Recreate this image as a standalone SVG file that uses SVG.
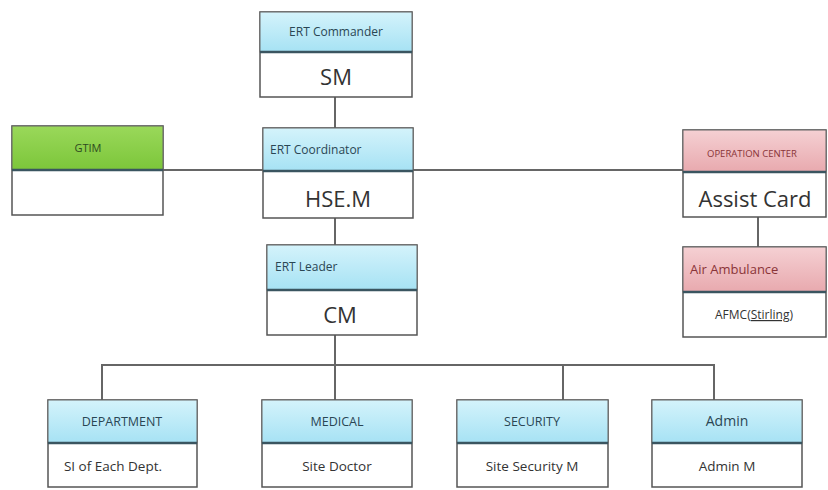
<svg xmlns="http://www.w3.org/2000/svg" width="828" height="490" viewBox="0 0 828 490">
<defs>
<linearGradient id="gBlue" x1="0" y1="0" x2="0" y2="1"><stop offset="0" stop-color="#d4f3fb"/><stop offset="1" stop-color="#a6e2f4"/></linearGradient>
<linearGradient id="gGreen" x1="0" y1="0" x2="0" y2="1"><stop offset="0" stop-color="#9ad85a"/><stop offset="1" stop-color="#7cc63a"/></linearGradient>
<linearGradient id="gPink" x1="0" y1="0" x2="0" y2="1"><stop offset="0" stop-color="#f5d0d3"/><stop offset="1" stop-color="#e8a9ae"/></linearGradient>
</defs>
<style>
.box{fill:#fff;stroke:#555;stroke-width:1.5}
.hb{fill:url(#gBlue);stroke:#666;stroke-width:1}
.hg{fill:url(#gGreen);stroke:#666;stroke-width:1}
.hp{fill:url(#gPink);stroke:#666;stroke-width:1}
.div{stroke:#3a5560;stroke-width:2.5}
.con{stroke:#666;stroke-width:2;fill:none}
text{font-family:"Open Sans","Liberation Sans",sans-serif}
.h{font-size:11px;fill:#2a4654}
.hb2{font-size:12.5px;fill:#2a4654}
.hr{font-size:11px;fill:#8a3438}
.v{font-size:22px;fill:#333;text-anchor:middle}
.vs{font-size:13.5px;fill:#333;text-anchor:middle}
.c{text-anchor:middle}
</style>
<g id="connectors">
<line class="con" x1="335" y1="97" x2="335" y2="128"/>
<line class="con" x1="163" y1="170" x2="683" y2="170"/>
<line class="con" x1="335" y1="218" x2="335" y2="245"/>
<line class="con" x1="335" y1="335" x2="335" y2="400"/>
<line class="con" x1="758" y1="217" x2="758" y2="247"/>
<polyline class="con" points="102,400 102,365 714,365 714,400"/>
<line class="con" x1="563" y1="365" x2="563" y2="400"/>
</g>
<g id="commander">
<rect class="box" x="260" y="12" width="152" height="85"/>
<rect class="hb" x="260" y="12" width="152" height="40"/>
<line class="div" x1="260" y1="52" x2="412" y2="52"/>
<text class="h c" x="336" y="36" style="font-size:12px">ERT Commander</text>
<text class="v" x="336" y="85">SM</text>
</g>
<g id="coordinator">
<rect class="box" x="263" y="128" width="150" height="90"/>
<rect class="hb" x="263" y="128" width="150" height="43"/>
<line class="div" x1="263" y1="171" x2="413" y2="171"/>
<text class="h" x="270" y="154" style="font-size:12px">ERT Coordinator</text>
<text class="v" x="338" y="207">HSE.M</text>
</g>
<g id="gtim">
<rect class="box" x="12" y="126" width="151" height="89"/>
<rect class="hg" x="12" y="126" width="151" height="44"/>
<line class="div" x1="12" y1="170" x2="163" y2="170"/>
<text class="h c" x="88" y="152" style="fill:#2e4a20">GTIM</text>
</g>
<g id="operation-center">
<rect class="box" x="683" y="130" width="143" height="87"/>
<rect class="hp" x="683" y="130" width="143" height="42"/>
<line class="div" x1="683" y1="172" x2="826" y2="172"/>
<text class="hr c" x="752" y="157" style="font-size:9.5px">OPERATION CENTER</text>
<text class="v" x="755" y="207">Assist Card</text>
</g>
<g id="air-ambulance">
<rect class="box" x="683" y="247" width="143" height="90"/>
<rect class="hp" x="683" y="247" width="143" height="45"/>
<line class="div" x1="683" y1="292" x2="826" y2="292"/>
<text class="hr" x="690" y="274" style="font-size:13px">Air Ambulance</text>
<text class="vs" x="754" y="319" style="font-size:12px">AFMC(<tspan text-decoration="underline">Stirling</tspan>)</text>
</g>
<g id="leader">
<rect class="box" x="267" y="245" width="150" height="90"/>
<rect class="hb" x="267" y="245" width="150" height="45"/>
<line class="div" x1="267" y1="290" x2="417" y2="290"/>
<text class="h" x="275" y="271" style="font-size:12px">ERT Leader</text>
<text class="v" x="340" y="323">CM</text>
</g>
<g id="department">
<rect class="box" x="48" y="400" width="149" height="87"/>
<rect class="hb" x="48" y="400" width="149" height="43"/>
<line class="div" x1="48" y1="443" x2="197" y2="443"/>
<text class="hb2 c" x="122" y="426">DEPARTMENT</text>
<text class="vs" x="113" y="471">SI of Each Dept.</text>
</g>
<g id="medical">
<rect class="box" x="262" y="400" width="150" height="87"/>
<rect class="hb" x="262" y="400" width="150" height="43"/>
<line class="div" x1="262" y1="443" x2="412" y2="443"/>
<text class="hb2 c" x="337" y="426">MEDICAL</text>
<text class="vs" x="337" y="471">Site Doctor</text>
</g>
<g id="security">
<rect class="box" x="457" y="400" width="151" height="87"/>
<rect class="hb" x="457" y="400" width="151" height="43"/>
<line class="div" x1="457" y1="443" x2="608" y2="443"/>
<text class="hb2 c" x="532" y="426">SECURITY</text>
<text class="vs" x="532" y="471">Site Security M</text>
</g>
<g id="admin">
<rect class="box" x="652" y="400" width="150" height="87"/>
<rect class="hb" x="652" y="400" width="150" height="43"/>
<line class="div" x1="652" y1="443" x2="802" y2="443"/>
<text class="hb2 c" x="727" y="426" style="font-size:14px">Admin</text>
<text class="vs" x="727" y="471">Admin M</text>
</g>
</svg>
